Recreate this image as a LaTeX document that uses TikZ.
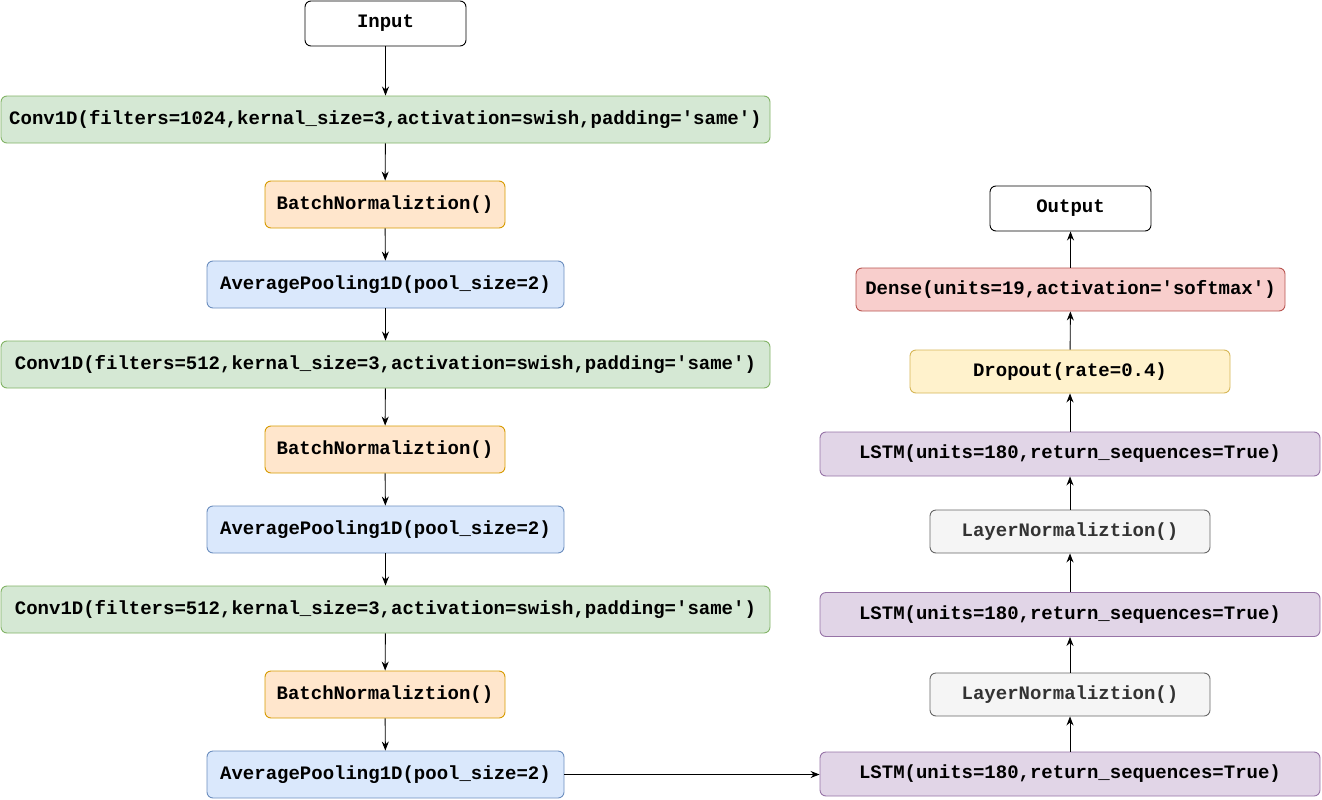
\documentclass[tikz,border=0pt]{standalone}
\usepackage{fontspec}
\setmonofont{Liberation Mono}
\usetikzlibrary{arrows.meta}
\definecolor{gfill}{HTML}{D5E8D4}\definecolor{gline}{HTML}{82B366}
\definecolor{ofill}{HTML}{FFE6CC}\definecolor{oline}{HTML}{D79B00}
\definecolor{bfill}{HTML}{DAE8FC}\definecolor{bline}{HTML}{6C8EBF}
\definecolor{rfill}{HTML}{F8CECC}\definecolor{rline}{HTML}{B85450}
\definecolor{yfill}{HTML}{FFF2CC}\definecolor{yline}{HTML}{D6B656}
\definecolor{pfill}{HTML}{E1D5E7}\definecolor{pline}{HTML}{9673A6}
\definecolor{sfill}{HTML}{F5F5F5}\definecolor{sline}{HTML}{666666}\definecolor{stext}{HTML}{333333}
\tikzset{
  layer/.style={rectangle, rounded corners=6pt, line width=0.9pt, inner sep=0pt,
    font=\ttfamily\bfseries\fontsize{19}{22}\selectfont},
  io/.style={layer, draw=black, fill=white, minimum width=161pt, minimum height=45pt},
  conv/.style={layer, draw=gline, fill=gfill, minimum width=769pt, minimum height=47pt},
  bn/.style={layer, draw=oline, fill=ofill, minimum width=240pt, minimum height=47pt},
  pool/.style={layer, draw=bline, fill=bfill, minimum width=357pt, minimum height=47pt},
  dense/.style={layer, draw=rline, fill=rfill, minimum width=429pt, minimum height=43pt},
  drop/.style={layer, draw=yline, fill=yfill, minimum width=320pt, minimum height=43pt},
  lstm/.style={layer, draw=pline, fill=pfill, minimum width=500pt, minimum height=44pt},
  lnorm/.style={layer, draw=sline, fill=sfill, text=stext, minimum width=280pt, minimum height=43pt},
  conn/.style={line width=0.9pt, -{Stealth[length=9pt,width=7pt]}}
}
\begin{document}
\begin{tikzpicture}[x=1pt,y=-1pt]
\useasboundingbox (0,0) rectangle (1322,800);
% left column
\node[io]   (in) at (385.5,23.5)  {Input};
\node[conv] (c1) at (385.5,119.5) {Conv1D(filters=1024,kernal\_size=3,activation=swish,padding='same')};
\node[bn]   (b1) at (385,204.5)   {BatchNormaliztion()};
\node[pool] (p1) at (385.5,284.5) {AveragePooling1D(pool\_size=2)};
\node[conv] (c2) at (385.5,364.5) {Conv1D(filters=512,kernal\_size=3,activation=swish,padding='same')};
\node[bn]   (b2) at (385,449.5)   {BatchNormaliztion()};
\node[pool] (p2) at (385.5,529.5) {AveragePooling1D(pool\_size=2)};
\node[conv] (c3) at (385.5,609.5) {Conv1D(filters=512,kernal\_size=3,activation=swish,padding='same')};
\node[bn]   (b3) at (385,694.5)   {BatchNormaliztion()};
\node[pool] (p3) at (385.5,774.5) {AveragePooling1D(pool\_size=2)};
% right column
\node[io]    (out)  at (1070.5,208.5) {Output};
\node[dense] (dn)   at (1070.5,289.5) {Dense(units=19,activation='softmax')};
\node[drop]  (dp)   at (1070,371.5)   {Dropout(rate=0.4)};
\node[lstm]  (l3)   at (1070,454)     {LSTM(units=180,return\_sequences=True)};
\node[lnorm] (ln2)  at (1070,531.5)   {LayerNormaliztion()};
\node[lstm]  (l2)   at (1070,614.5)   {LSTM(units=180,return\_sequences=True)};
\node[lnorm] (ln1)  at (1070,694.5)   {LayerNormaliztion()};
\node[lstm]  (l1)   at (1070,774)     {LSTM(units=180,return\_sequences=True)};
% connectors
\foreach \a/\b in {in/c1,c1/b1,b1/p1,p1/c2,c2/b2,b2/p2,p2/c3,c3/b3,b3/p3}
  \draw[conn] (\a) -- (\b);
\foreach \a/\b in {l1/ln1,ln1/l2,l2/ln2,ln2/l3,l3/dp,dp/dn,dn/out}
  \draw[conn] (\a) -- (\b);
\draw[conn] (p3.east) -- (p3.east -| l1.west);
\end{tikzpicture}
\end{document}
